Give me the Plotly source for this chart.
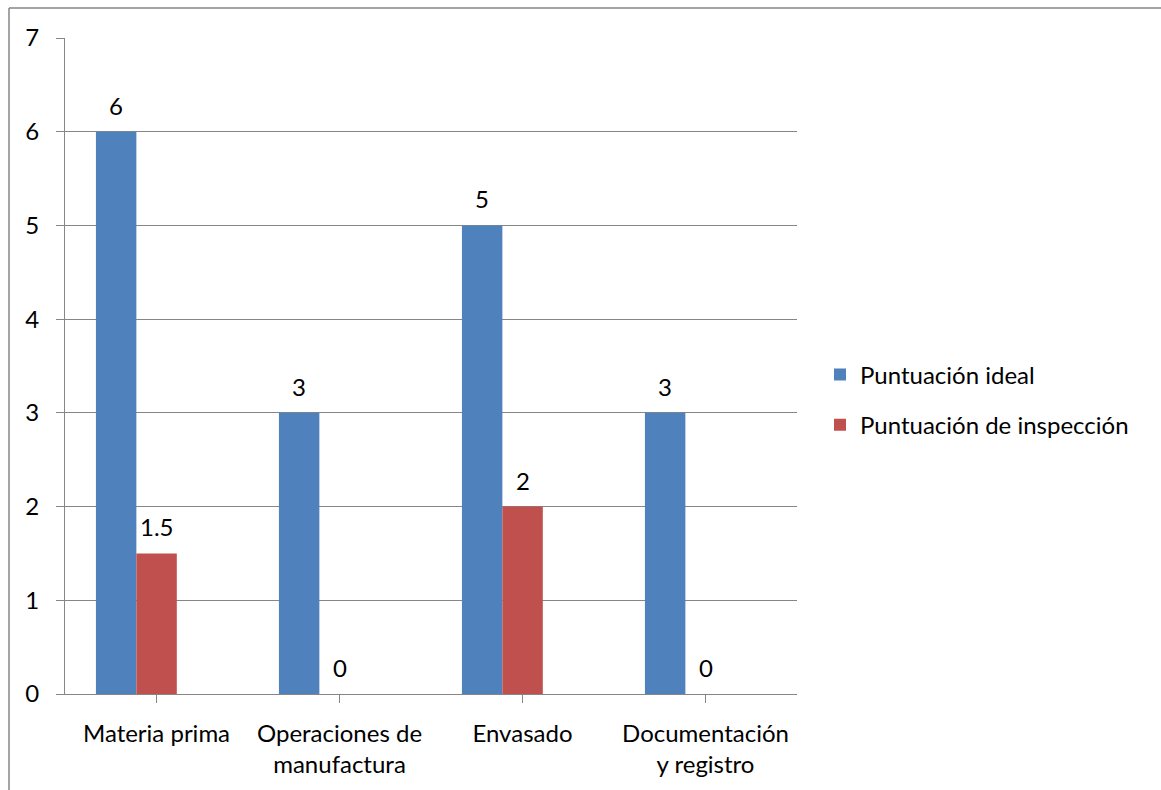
import plotly.graph_objects as go

categories = ["Materia prima", "Operaciones de<br>manufactura", "Envasado", "Documentación<br>y registro"]
ideal = [6, 3, 5, 3]
inspeccion = [1.5, 0, 2, 0]
series_names = ["Puntuación ideal", "Puntuación de inspección"]
colors = ["#4F81BD", "#C0504D"]

FONT = "Lato, Carlito, Calibri, sans-serif"
FS = 24
BAR_W = 0.221
OFFSETS = [-0.331, -0.331 + BAR_W]

W, H = 1161, 790
L, R, T, B = 65, 364, 38, 94
pw, ph = W - L - R, H - T - B

fig = go.Figure()
idx = list(range(len(categories)))
for k, (name, vals, col, off) in enumerate(zip(series_names, [ideal, inspeccion], colors, OFFSETS)):
    fig.add_trace(go.Bar(
        x=idx, y=vals, name=name, legendgroup=f"g{k}",
        marker=dict(color=col, line=dict(width=0)),
        width=BAR_W, offset=off,
    ))
    for i, v in zip(idx, vals):
        fig.add_annotation(
            x=i + off + BAR_W / 2, y=v, text=f"{v:g}", showarrow=False,
            yanchor="bottom", yshift=10, font=dict(family=FONT, size=FS, color="#000"),
        )

fig.update_layout(
    width=W, height=H, barmode="overlay",
    margin=dict(l=L, r=R, t=T, b=B, pad=0),
    paper_bgcolor="white", plot_bgcolor="white",
    font=dict(family=FONT, size=FS, color="#000"),
    legend=dict(
        x=(820 - L) / pw, xanchor="left", y=(H - B - 401) / ph, yanchor="middle",
        font=dict(family=FONT, size=FS), itemwidth=30, tracegroupgap=16,
        bgcolor="rgba(0,0,0,0)",
    ),
    xaxis=dict(
        tickmode="array", tickvals=idx, ticktext=categories,
        range=[-0.5, len(categories) - 0.5],
        showline=True, linecolor="#868686", linewidth=1,
        ticks="outside", ticklen=8, tickcolor="#868686", tickson="boundaries",
        showgrid=False, zeroline=False, ticklabelstandoff=10,
        tickfont=dict(family=FONT, size=FS),
    ),
    yaxis=dict(
        range=[0, 7], dtick=1, tick0=0,
        showline=True, linecolor="#868686", linewidth=1,
        ticks="outside", ticklen=8, tickcolor="#868686",
        showgrid=True, gridcolor="#868686", gridwidth=1,
        zeroline=False, ticklabelstandoff=12,
        tickfont=dict(family=FONT, size=FS),
    ),
)

# outer chart frame
x0 = (9 - L) / pw
ytop = (H - B - 8) / ph
fig.add_shape(type="line", xref="paper", yref="paper", x0=x0, x1=x0, y0=ytop, y1=-B / ph - 0.01,
              line=dict(color="#868686", width=1.5))
fig.add_shape(type="line", xref="paper", yref="paper", x0=x0, x1=(W - L) / pw + 0.01, y0=ytop, y1=ytop,
              line=dict(color="#868686", width=1.5))

fig.write_html("out.html")
